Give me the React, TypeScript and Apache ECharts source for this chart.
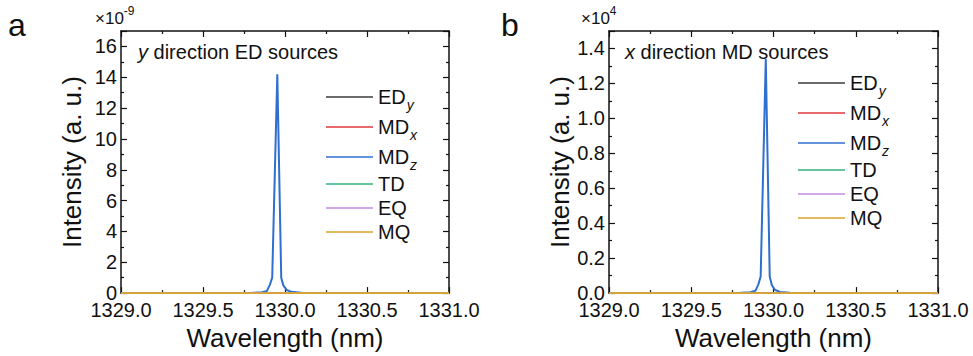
import React, { useEffect, useRef } from "react";
import * as echarts from "echarts";

const FONT = "'Liberation Sans', Arial, sans-serif";

// Wavelength samples (nm)
const wavelength = [1329.0, 1329.5, 1329.8, 1329.86, 1329.89, 1329.908, 1329.922, 1329.953, 1329.977, 1329.99, 1330.01, 1330.04, 1330.1, 1330.3, 1331.0];

// Panel a: y direction ED sources (x1e-9)
const aEDy = [0, 0, 0, 0, 0, 0, 0, 0, 0, 0, 0, 0, 0, 0, 0];
const aMDx = [0, 0, 0, 0, 0, 0, 0, 0, 0, 0, 0, 0, 0, 0, 0];
const aMDz = [0, 0.003, 0.015, 0.05, 0.14, 0.55, 1.0, 14.2, 1.0, 0.5, 0.2, 0.08, 0.025, 0.005, 0];
const aTD = [0, 0, 0, 0, 0, 0, 0, 0, 0, 0, 0, 0, 0, 0, 0];
const aEQ = [0, 0, 0, 0, 0, 0, 0, 0, 0, 0, 0, 0, 0, 0, 0];
const aMQ = [0, 0, 0, 0, 0, 0, 0, 0, 0, 0, 0, 0, 0, 0, 0];

// Panel b: x direction MD sources (x1e4)
const bEDy = [0, 0, 0, 0, 0, 0, 0, 0, 0, 0, 0, 0, 0, 0, 0];
const bMDx = [0, 0, 0, 0, 0, 0, 0, 0, 0, 0, 0, 0, 0, 0, 0];
const bMDz = [0, 0.0003, 0.0015, 0.005, 0.013, 0.05, 0.095, 1.34, 0.095, 0.045, 0.018, 0.007, 0.002, 0.0005, 0];
const bTD = [0, 0, 0, 0, 0, 0, 0, 0, 0, 0, 0, 0, 0, 0, 0];
const bEQ = [0, 0, 0, 0, 0, 0, 0, 0, 0, 0, 0, 0, 0, 0, 0];
const bMQ = [0, 0, 0, 0, 0, 0, 0, 0, 0, 0, 0, 0, 0, 0, 0];

const seriesNames = ["ED_y", "MD_x", "MD_z", "TD", "EQ", "MQ"];
const seriesColors = ["#3a3a3a", "#e0393e", "#2f6fce", "#35b27d", "#c48be0", "#d9a52a"];

const AXIS_COLOR = "#111";

function xAxes(gridIndex: number) {
  const common = {
    type: "value",
    gridIndex,
    min: 1329,
    max: 1331,
    interval: 0.5,
    splitLine: { show: false },
    axisLine: { show: true, onZero: false, lineStyle: { color: AXIS_COLOR, width: 1.5 } },
    axisTick: { show: true, inside: true, length: 6, lineStyle: { color: AXIS_COLOR, width: 1.2 } },
    minorTick: { show: true, splitNumber: 2, length: 3, lineStyle: { color: AXIS_COLOR, width: 1.2 } },
  };
  return [
    {
      ...common,
      position: "bottom",
      axisLabel: {
        show: true,
        fontSize: 20,
        color: AXIS_COLOR,
        fontFamily: FONT,
        margin: 7,
        formatter: (v: number) => v.toFixed(1),
      },
      name: "Wavelength (nm)",
      nameLocation: "middle",
      nameGap: 28,
      nameTextStyle: { fontSize: 26, color: AXIS_COLOR, fontFamily: FONT },
    },
    { ...common, position: "top", axisLabel: { show: false } },
  ];
}

function yAxes(gridIndex: number, max: number, interval: number, digits: number) {
  const common = {
    type: "value",
    gridIndex,
    min: 0,
    max,
    interval,
    splitLine: { show: false },
    axisLine: { show: true, onZero: false, lineStyle: { color: AXIS_COLOR, width: 1.5 } },
    axisTick: { show: true, inside: true, length: 6, lineStyle: { color: AXIS_COLOR, width: 1.2 } },
    minorTick: { show: true, splitNumber: 2, length: 3, lineStyle: { color: AXIS_COLOR, width: 1.2 } },
  };
  return [
    {
      ...common,
      position: "left",
      axisLabel: {
        show: true,
        fontSize: 20,
        color: AXIS_COLOR,
        fontFamily: FONT,
        margin: 4,
        showMaxLabel: false,
        formatter: (v: number) => (Math.abs(v - max) < 1e-9 ? "" : v.toFixed(digits)),
      },
      name: "Intensity (a. u.)",
      nameLocation: "middle",
      nameGap: 36,
      nameTextStyle: { fontSize: 26, color: AXIS_COLOR, fontFamily: FONT },
    },
    { ...common, position: "right", axisLabel: { show: false } },
  ];
}

function makeSeries(arrays: number[][], xIdx: number, yIdx: number) {
  return arrays.map((vals, i) => ({
    type: "line",
    name: seriesNames[i],
    xAxisIndex: xIdx,
    yAxisIndex: yIdx,
    data: wavelength.map((w, k) => [w, vals[k]]),
    symbol: "none",
    showSymbol: false,
    color: seriesColors[i],
    lineStyle: { color: seriesColors[i], width: i === 2 ? 2 : 1.6 },
    z: 2 + i,
  }));
}

const legendRich = {
  b: { fontSize: 20, lineHeight: 20, fontFamily: FONT, color: AXIS_COLOR, verticalAlign: "middle" },
  s: {
    fontSize: 14,
    lineHeight: 14,
    fontStyle: "italic",
    fontFamily: FONT,
    color: AXIS_COLOR,
    verticalAlign: "middle",
    padding: [16, 0, 0, 1],
  },
  n: { fontSize: 20, lineHeight: 21, fontFamily: FONT, color: AXIS_COLOR, verticalAlign: "middle", padding: [2, 0, 2, 0] },
};

function legendFormatter(name: string) {
  const p = name.split("_");
  if (p.length === 2) return `{b|${p[0]}}{s|${p[1]}}`;
  return `{n|${name}}`;
}

function makeLegend(left: number, top: number) {
  return {
    show: true,
    orient: "vertical",
    left,
    top,
    icon: "rect",
    itemWidth: 47,
    itemHeight: 1.6,
    itemGap: 0,
    selectedMode: false,
    data: seriesNames,
    formatter: legendFormatter,
    textStyle: { fontSize: 20, fontFamily: FONT, color: AXIS_COLOR, rich: legendRich },
  };
}

function multiplier(x: number, exp: string) {
  return {
    type: "text",
    x,
    y: 18,
    style: {
      text: `{m|×10}{e|${exp}}`,
      verticalAlign: "middle",
      fill: AXIS_COLOR,
      rich: {
        m: { fontSize: 17, lineHeight: 24, fontFamily: FONT, fill: AXIS_COLOR, verticalAlign: "middle" },
        e: { fontSize: 12, lineHeight: 12, fontFamily: FONT, fill: AXIS_COLOR, verticalAlign: "middle", padding: [0, 0, 14, 0] },
      },
    },
  };
}

function annotation(x: number, italic: string, rest: string) {
  return {
    type: "text",
    x,
    y: 52,
    style: {
      text: `{i|${italic}}{r|${rest}}`,
      verticalAlign: "middle",
      fill: AXIS_COLOR,
      rich: {
        i: { fontSize: 20, fontStyle: "italic", fontFamily: FONT, fill: AXIS_COLOR },
        r: { fontSize: 20, fontFamily: FONT, fill: AXIS_COLOR },
      },
    },
  };
}

export default function App() {
  const ref = useRef<HTMLDivElement>(null);
  useEffect(() => {
    if (!ref.current) return;
    const chart = echarts.init(ref.current, undefined, { renderer: "svg" });
    chart.setOption({
      animation: false,
      backgroundColor: "#ffffff",
      grid: [
        { left: 121, top: 31, width: 328, height: 265 },
        { left: 609, top: 31, width: 329, height: 265 },
      ],
      xAxis: [...xAxes(0), ...xAxes(1)],
      yAxis: [...yAxes(0, 17, 2, 0), ...yAxes(1, 1.5, 0.2, 1)],
      legend: [makeLegend(321, 77), makeLegend(793, 63)],
      series: [
        ...makeSeries([aEDy, aMDx, aMDz, aTD, aEQ, aMQ], 0, 0),
        ...makeSeries([bEDy, bMDx, bMDz, bTD, bEQ, bMQ], 2, 2),
      ],
      graphic: [
        { type: "text", x: 8, y: 25, style: { text: "a", fontSize: 32, fontFamily: FONT, fill: AXIS_COLOR, verticalAlign: "middle" } },
        { type: "text", x: 501, y: 25, style: { text: "b", fontSize: 32, fontFamily: FONT, fill: AXIS_COLOR, verticalAlign: "middle" } },
        multiplier(95, "-9"),
        multiplier(581, "4"),
        annotation(138, "y", " direction ED sources"),
        annotation(625, "x", " direction MD sources"),
      ],
    });
    return () => chart.dispose();
  }, []);
  return (
    <div
      ref={ref}
      style={{ position: "absolute", left: 0, top: 0, width: 973, height: 356, background: "#fff" }}
    />
  );
}
